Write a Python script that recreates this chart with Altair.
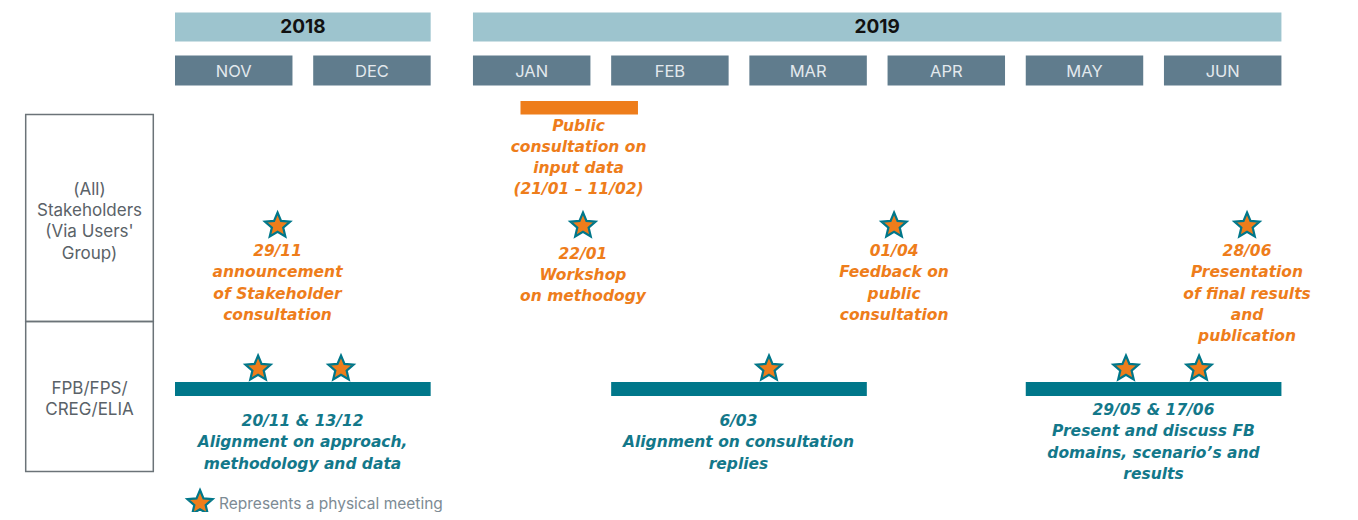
import math
import altair as alt
import pandas as pd

# ---------------- data ----------------
years = ["2018", "2019"]
months = ["NOV", "DEC", "JAN", "FEB", "MAR", "APR", "MAY", "JUN"]
month_year = ["2018", "2018", "2019", "2019", "2019", "2019", "2019", "2019"]

row_labels = [["(All)", "Stakeholders", "(Via Users'", "Group)"],
              ["FPB/FPS/", "CREG/ELIA"]]

# public consultation period (x in month units from start of NOV)
consult_start = 2.50
consult_end = 3.35
consult_x = 2.92
consult_lines = ["Public", "consultation on", "input data", "(21/01 \u2013 11/02)"]

# stakeholder meetings (x in month units)
stake_x = [0.742, 2.952, 5.203, 7.757]
stake_text = [
    ["29/11", "announcement", "of Stakeholder", "consultation"],
    ["22/01", "Workshop", "on methodogy"],
    ["01/04", "Feedback on", "public", "consultation"],
    ["28/06", "Presentation", "of final results", "and", "publication"],
]

# FPB/FPS/CREG/ELIA working periods and meetings
fpb_periods = [("NOV", "DEC"), ("FEB", "MAR"), ("MAY", "JUN")]
fpb_star_x = [0.601, 1.201, 4.298, 6.881, 7.410]
fpb_text_x = [0.923, 4.077, 7.080]
fpb_text = [
    ["20/11 & 13/12", "Alignment on approach,", "methodology and data"],
    ["6/03", "Alignment on consultation", "replies"],
    ["29/05 & 17/06", "Present and discuss FB", "domains, scenario\u2019s and", "results"],
]
legend_label = "Represents a physical meeting"

# ---------------- layout / style ----------------
W, H = 1342, 504
PITCH = 138.2          # px per month
ORIGIN = 175           # page px of NOV start
YEAR_GAP = 0.156       # extra gap between years (month units)
BOX_W = 0.85           # month box width (month units)
d0 = -(ORIGIN - 8) / PITCH
XS = alt.Scale(domain=[d0, d0 + W / PITCH], zero=False, nice=False)
YS = alt.Scale(domain=[8, 8 + H], zero=False, nice=False, reverse=True)

ORANGE = "#ee7d1b"
TEAL = "#00778a"
TEAL_TXT = "#13788a"
YEAR_BG = "#9dc4ce"
MONTH_BG = "#607c8d"
MONTH_TXT = "#e3e9ed"
GRAY = "#5a6268"
FONT = "Inter"
EV_FONT = "DejaVu Sans"

LH = 21.3
Y = dict(year=(12.5, 41.5), month=(55.5, 85.5), row1=(114.5, 321.5), row2=(321.5, 471.5),
         consult_bar=(101, 114.5), consult_text=125.5, row1_text=190, row2_text=389,
         star1=224.5, ev1_text=[251, 253.5, 251, 251], fpb_bar=(382, 396), star2=367.5,
         ev2_text=[421, 421, 410], legend=502)

month_x = {}
for i, (m, yr) in enumerate(zip(months, month_year)):
    month_x[m] = i + (YEAR_GAP if yr == "2019" else 0.0)

# star path (unit box)
def star_path(inner=0.45):
    pts = []
    for k in range(10):
        r = 1.0 if k % 2 == 0 else inner
        a = -math.pi / 2 + k * math.pi / 5
        pts.append((r * math.cos(a), r * math.sin(a) + 0.095))
    return "M" + " L".join(f"{x:.4f},{y:.4f}" for x, y in pts) + " Z"

STAR = star_path()

def X(f="x"):
    return alt.X(f"{f}:Q", scale=XS, axis=None)

def Yc(f="y"):
    return alt.Y(f"{f}:Q", scale=YS, axis=None)

# ---------------- tables ----------------
year_df = pd.DataFrame({
    "year": years,
    "x": [min(month_x[m] for m, y in zip(months, month_year) if y == yy) for yy in years],
    "x2": [max(month_x[m] for m, y in zip(months, month_year) if y == yy) + BOX_W for yy in years],
})
year_df["xm"] = (year_df["x"] + year_df["x2"]) / 2
year_df["y"], year_df["y2"] = Y["year"]
year_df["ym"] = sum(Y["year"]) / 2

month_df = pd.DataFrame({"m": months, "x": [month_x[m] for m in months]})
month_df["x2"] = month_df["x"] + BOX_W
month_df["xm"] = month_df["x"] + BOX_W / 2
month_df["y"], month_df["y2"] = Y["month"]
month_df["ym"] = sum(Y["month"]) / 2 + 1

LEFT_X = ((25.7 - ORIGIN) / PITCH, (153.3 - ORIGIN) / PITCH)
box_df = pd.DataFrame({"x": [LEFT_X[0]] * 2, "x2": [LEFT_X[1]] * 2,
                       "y": [Y["row1"][0], Y["row2"][0]], "y2": [Y["row1"][1], Y["row2"][1]]})

def lines_df(blocks, xs, y0s, lh):
    recs = []
    for lines, x, y0 in zip(blocks, xs, y0s):
        for i, t in enumerate(lines):
            recs.append({"x": x, "y": y0 + i * lh, "t": t})
    return pd.DataFrame(recs)

xl = (LEFT_X[0] + LEFT_X[1]) / 2
left_txt = lines_df(row_labels, [xl, xl], [Y["row1_text"], Y["row2_text"]], 21.2)

consult_bar = pd.DataFrame({"x": [consult_start], "x2": [consult_end],
                            "y": [Y["consult_bar"][0]], "y2": [Y["consult_bar"][1]]})
consult_txt = lines_df([consult_lines], [consult_x], [Y["consult_text"]], LH)

stake_stars = pd.DataFrame({"x": stake_x, "y": [Y["star1"]] * len(stake_x)})
stake_txt = lines_df(stake_text, stake_x, Y["ev1_text"], LH)

fpb_bar = pd.DataFrame({"x": [month_x[a] for a, b in fpb_periods],
                        "x2": [month_x[b] + BOX_W for a, b in fpb_periods]})
fpb_bar["y"], fpb_bar["y2"] = Y["fpb_bar"]
fpb_stars = pd.DataFrame({"x": fpb_star_x, "y": [Y["star2"]] * len(fpb_star_x)})
fpb_txt = lines_df(fpb_text, fpb_text_x, Y["ev2_text"], LH)

legend_star = pd.DataFrame({"x": [(200 - ORIGIN) / PITCH], "y": [Y["legend"]]})
legend_txt = pd.DataFrame({"x": [(219 - ORIGIN) / PITCH], "y": [Y["legend"] + 2], "t": [legend_label]})

# ---------------- layers ----------------
def rects(df, **kw):
    return alt.Chart(df).mark_rect(**kw).encode(x=X(), x2="x2:Q", y=Yc(), y2="y2:Q")

def texts(df, **kw):
    return alt.Chart(df).mark_text(font=kw.pop("font", FONT), align=kw.pop("align", "center"),
                                   baseline="middle", **kw).encode(x=X(), y=Yc(), text="t:N")

def stars(df):
    return alt.Chart(df).mark_point(shape=STAR, size=700, filled=True, fill=ORANGE,
                                    fillOpacity=1, stroke=TEAL, strokeWidth=2.2,
                                    strokeOpacity=1, opacity=1).encode(x=X(), y=Yc())

EV = dict(font=EV_FONT, fontSize=15.5, fontWeight="bold", fontStyle="italic")
layers = [
    rects(year_df, color=YEAR_BG),
    alt.Chart(year_df).mark_text(font=FONT, fontSize=19, fontWeight="bold", color="#111111",
                                 baseline="middle").encode(x=X("xm"), y=Yc("ym"), text="year:N"),
    rects(month_df, color=MONTH_BG),
    alt.Chart(month_df).mark_text(font=FONT, fontSize=16.5, color=MONTH_TXT,
                                  baseline="middle").encode(x=X("xm"), y=Yc("ym"), text="m:N"),
    rects(box_df, fill="#ffffff", fillOpacity=0, stroke="#6b7378", strokeWidth=1.5),
    texts(left_txt, fontSize=17, color=GRAY),
    rects(consult_bar, color=ORANGE),
    texts(consult_txt, color=ORANGE, **EV),
    stars(stake_stars),
    texts(stake_txt, color=ORANGE, **EV),
    rects(fpb_bar, color=TEAL),
    stars(fpb_stars),
    texts(fpb_txt, color=TEAL_TXT, **EV),
    stars(legend_star),
    texts(legend_txt, fontSize=15.5, color="#7d8b94", align="left"),
]

chart = alt.layer(*layers).properties(
    width=W, height=H, autosize=alt.AutoSizeParams(type="none"), padding=0
).configure_view(stroke=None)

chart.save("out.html", embed_options={"renderer": "svg", "actions": False})
